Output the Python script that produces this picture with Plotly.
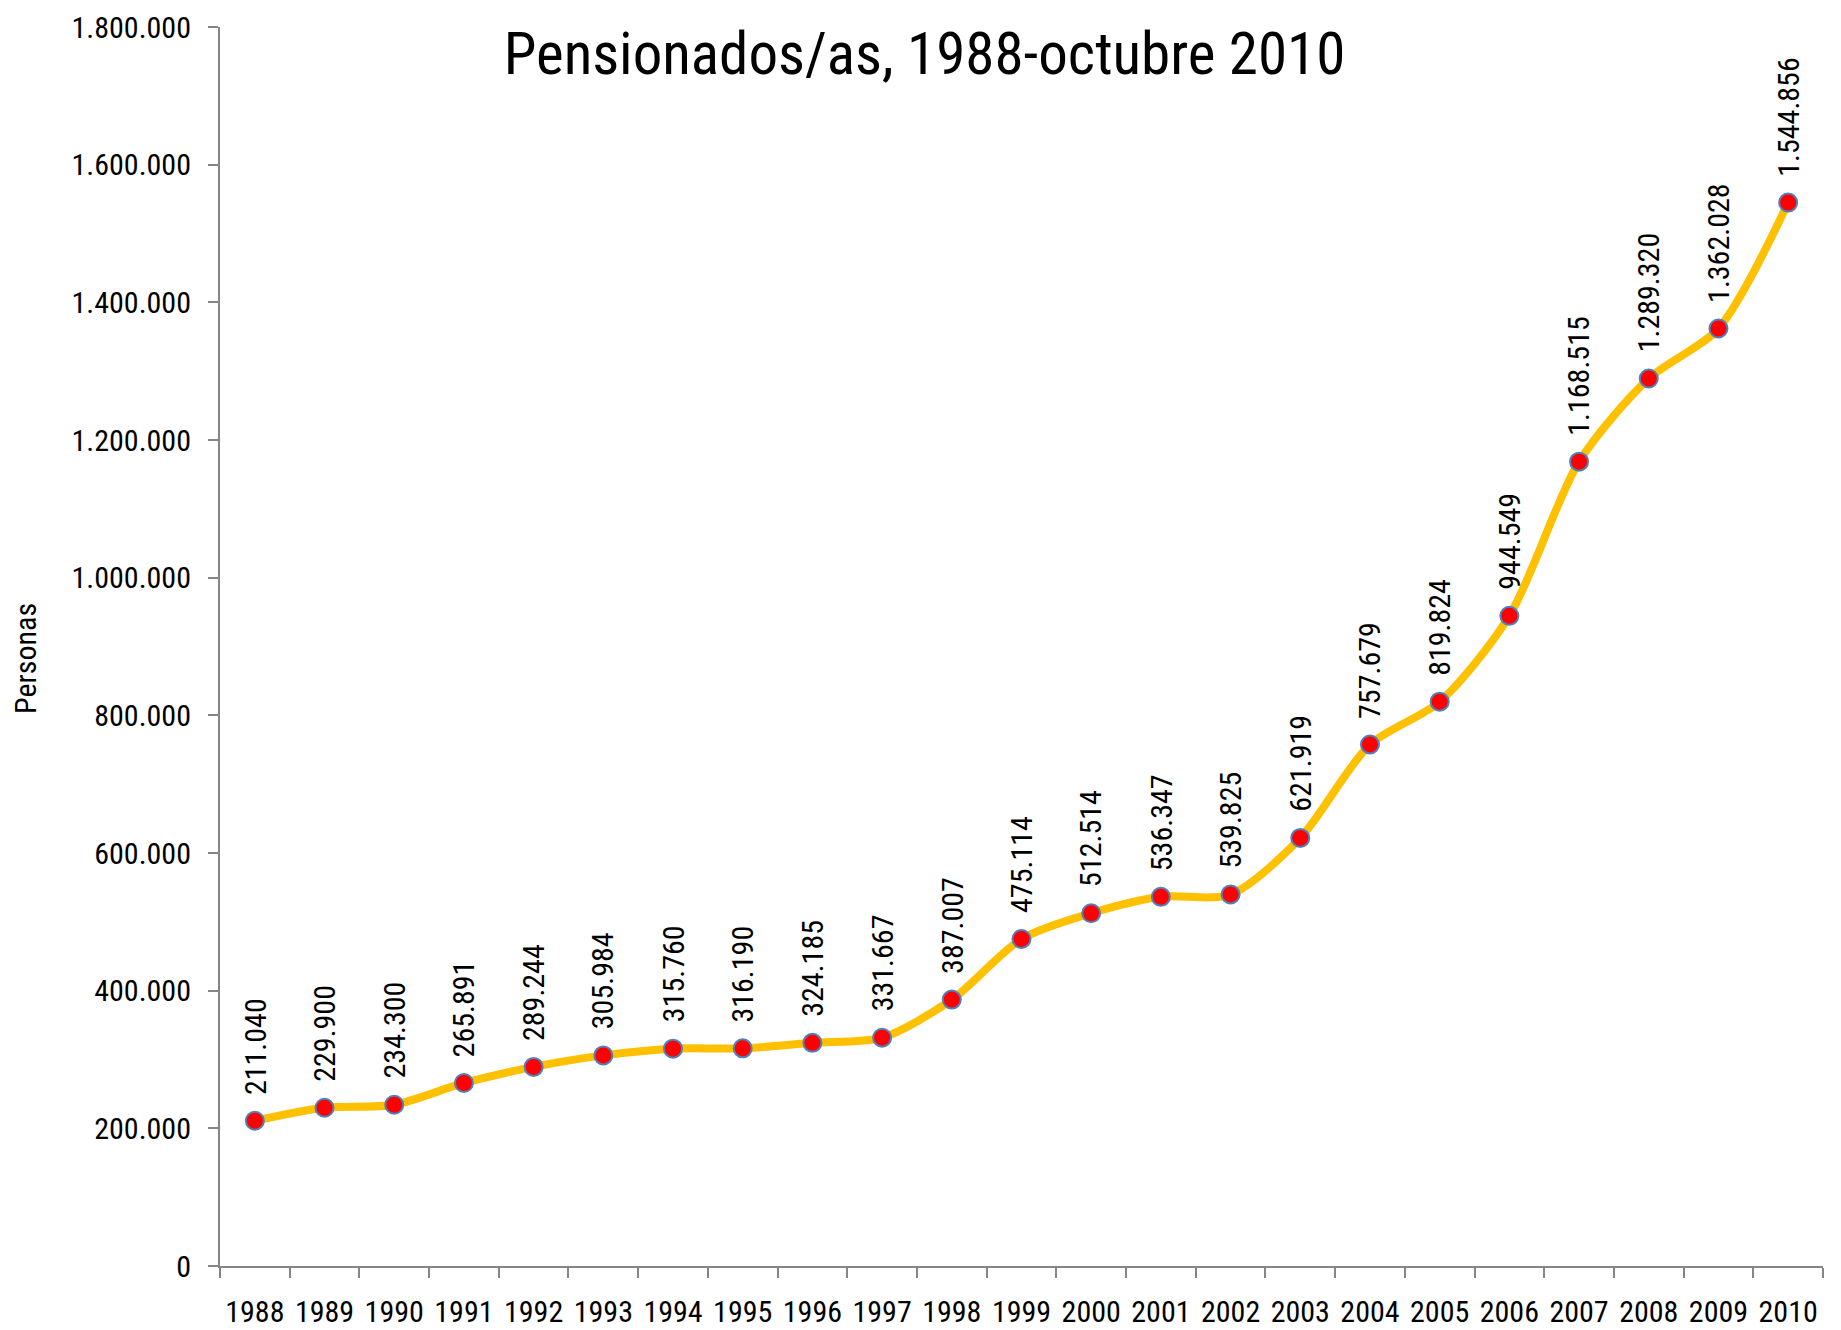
import plotly.graph_objects as go

years = [str(y) for y in range(1988, 2011)]
pensionados = [211040, 229900, 234300, 265891, 289244, 305984, 315760, 316190,
               324185, 331667, 387007, 475114, 512514, 536347, 539825, 621919,
               757679, 819824, 944549, 1168515, 1289320, 1362028, 1544856]

FONT = "Roboto Condensed"
W, H = 1833, 1322  # page body has an 8px margin

fig = go.Figure()
fig.add_trace(go.Scatter(
    x=years, y=pensionados, mode="lines+markers",
    line=dict(color="#FFC000", width=8, shape="spline", smoothing=0.8),
    marker=dict(color="#FF0000", size=18, line=dict(color="#4F81BD", width=2)),
    hoverinfo="x+y", showlegend=False,
))

for i, v in enumerate(pensionados):
    fig.add_annotation(
        x=i, y=v, xref="x", yref="y",
        text=f"{v:,}".replace(",", "."),
        textangle=-90, showarrow=False,
        xanchor="center", yanchor="bottom", yshift=24,
        font=dict(family=FONT, size=30, color="#000000"),
    )

fig.add_annotation(
    text="Personas", xref="paper", yref="paper",
    x=(26 - 220) / 1603, y=0.49, textangle=-90, showarrow=False,
    xanchor="center", yanchor="middle",
    font=dict(family=FONT, size=30, color="#000000"),
)

fig.update_layout(
    width=W, height=H,
    margin=dict(l=212, r=18, t=19, b=64),
    paper_bgcolor="white", plot_bgcolor="white",
    separators=",.",
    font=dict(family=FONT, size=30, color="#000000"),
    title=dict(text="Pensionados/as, 1988-octubre 2010",
               x=0.5, xanchor="center", xref="container",
               y=1 - 45 / H, yanchor="middle", yref="container",
               font=dict(family=FONT, size=59, color="#000000")),
)

fig.update_xaxes(
    type="category", range=[-0.5, 22.5], tickangle=0, automargin=False,
    showline=True, linecolor="#868686", linewidth=2,
    ticks="outside", ticklen=10, tickwidth=2, tickcolor="#868686",
    tickson="boundaries", showgrid=False, zeroline=False,
    ticklabelstandoff=18, ticklabeloverflow="allow",
    tickfont=dict(family=FONT, size=30, color="#000000"),
)
fig.update_yaxes(
    range=[0, 1800000], dtick=200000, tickformat=",d", automargin=False,
    showline=True, linecolor="#868686", linewidth=2,
    ticks="outside", ticklen=10, tickwidth=2, tickcolor="#868686",
    showgrid=False, zeroline=False,
    ticklabelstandoff=11, ticklabeloverflow="allow",
    tickfont=dict(family=FONT, size=30, color="#000000"),
)

fig.write_html("out.html")
